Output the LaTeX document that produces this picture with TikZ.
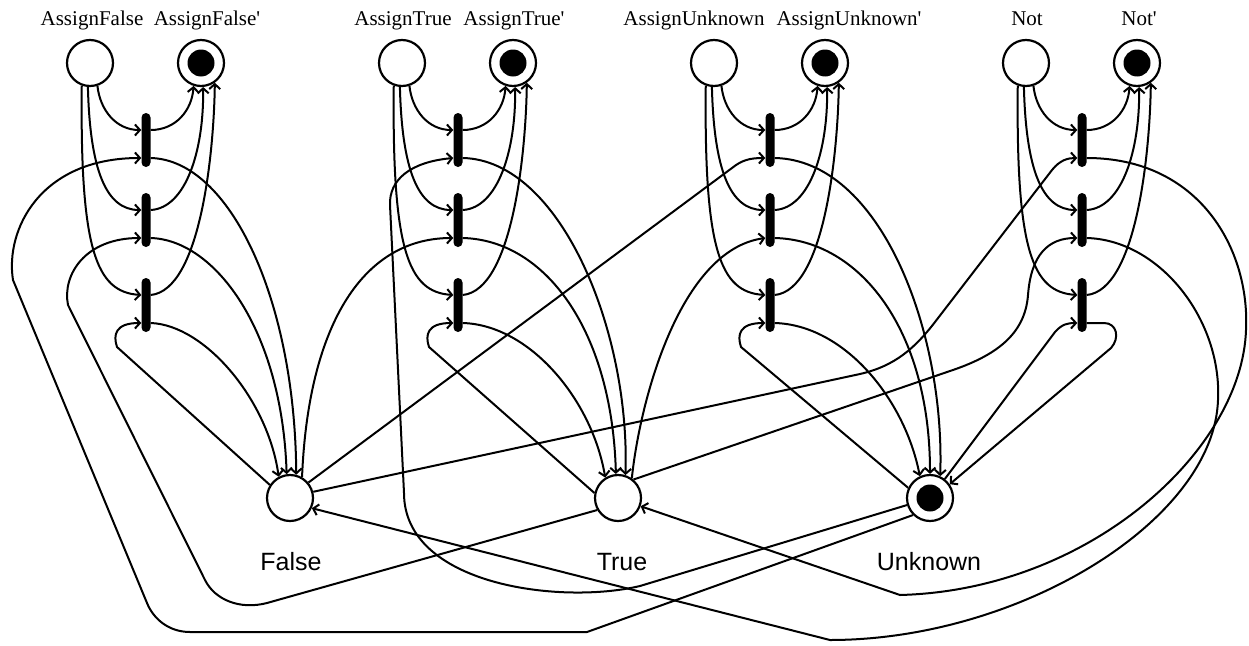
\documentclass[tikz,border=0pt]{standalone}
\usepackage{fontspec}
\setmainfont{Liberation Serif}
\newfontfamily\valfont{Liberation Sans}
\usetikzlibrary{arrows.meta,calc}

\begin{document}
\begin{tikzpicture}[x=1pt,y=-1pt,
  place/.style={circle,draw,line width=2.2pt,minimum size=46pt,inner sep=0pt},
  marked/.style={place,path picture={\fill (path picture bounding box.center) circle[radius=13.5pt];}},
  trans/.style={rectangle,fill,minimum width=9pt,minimum height=54pt,inner sep=0pt,rounded corners=4.5pt},
  arc/.style={line width=2pt,line join=round,-{Straight Barb[length=5pt,width=11pt]}},
  plabel/.style={font=\fontsize{21}{25}\selectfont,anchor=base,inner sep=0pt},
  vlabel/.style={font=\valfont\fontsize{25}{30}\selectfont,anchor=base,inner sep=0pt}]
\useasboundingbox (0,0) rectangle (1249,645);

% transitions: three per group, with their four arc ports
\foreach \g/\tx in {1/146,2/458,3/770,4/1082}{
  \foreach \k/\ty in {1/140,2/220,3/305}{
    \node[trans] (t\g\k) at (\tx,\ty) {};
    \coordinate (t\g\k-pi) at ($(t\g\k.west)+(0,-10)$);
    \coordinate (t\g\k-vi) at ($(t\g\k.west)+(0,18)$);
    \coordinate (t\g\k-po) at ($(t\g\k.east)+(0,-10)$);
    \coordinate (t\g\k-vo) at ($(t\g\k.east)+(0,18)$);
  }
}

% operation places
\node[place]  (p1) at (90,63)   {};
\node[marked] (q1) at (201,63)  {};
\node[place]  (p2) at (402,63)  {};
\node[marked] (q2) at (513,63)  {};
\node[place]  (p3) at (714,63)  {};
\node[marked] (q3) at (825,63)  {};
\node[place]  (p4) at (1026,63) {};
\node[marked] (q4) at (1137,63) {};

\node[plabel] (lp1) at (92,25)   {AssignFalse};
\node[plabel] (lq1) at (207,25)  {AssignFalse\textquotesingle};
\node[plabel] (lp2) at (403,25)  {AssignTrue};
\node[plabel] (lq2) at (514,25)  {AssignTrue\textquotesingle};
\node[plabel] (lp3) at (694,25)  {AssignUnknown};
\node[plabel] (lq3) at (849,25)  {AssignUnknown\textquotesingle};
\node[plabel] (lp4) at (1027,25) {Not};
\node[plabel] (lq4) at (1139,25) {Not\textquotesingle};

% value places
\node[place]  (F) at (290,498) {};
\node[place]  (T) at (618,498) {};
\node[marked] (U) at (930,498) {};
\node[vlabel] (lF) at (291,570) {False};
\node[vlabel] (lT) at (622,570) {True};
\node[vlabel] (lU) at (929,570) {Unknown};

% operation place -> transitions -> primed place
\foreach \g in {1,...,4}{
  \draw[arc] (p\g.-72)  .. controls ($(t\g1)+(-46,-30)$) and ($(t\g1)+(-30,-10)$) .. (t\g1-pi);
  \draw[arc] (p\g.-95)  .. controls ($(t\g2)+(-56,-50)$) and ($(t\g2)+(-40,-10)$) .. (t\g2-pi);
  \draw[arc] (p\g.-110) .. controls ($(t\g3)+(-66,-55)$) and ($(t\g3)+(-50,-13)$) .. (t\g3-pi);
  \draw[arc] (t\g1-po) .. controls ($(t\g1)+(30,-10)$) and ($(t\g1)+(46,-30)$) .. (q\g.-108);
  \draw[arc] (t\g2-po) .. controls ($(t\g2)+(40,-12)$) and ($(t\g2)+(58,-70)$) .. (q\g.-85);
  \draw[arc] (t\g3-po) .. controls ($(t\g3)+(55,-15)$) and ($(t\g3)+(68,-155)$) .. (q\g.-55);
}

% AssignFalse
\draw[arc] (t11-vo) .. controls (230,160) and (295,300) .. (F.75);
\draw[arc] (t12-vo) .. controls (215,240) and (282,330) .. (F.98);
\draw[arc] (t13-vo) .. controls (205,325) and (268,400) .. (F.118);
\draw[arc] (U.225) -- (587,632) -- (190,632) .. controls (168,632) and (153,618) .. (147,603)
  -- (13,280) .. controls (5,230) and (40,158) .. (t11-vi);
\draw[arc] (T.210) -- (267,603) .. controls (240,610) and (215,600) .. (205,580)
  -- (68,305) .. controls (62,275) and (85,238) .. (t12-vi);
\draw[arc] (F.147) -- (117,347) .. controls (113,335) and (115,323) .. (t13-vi);

% AssignTrue
\draw[arc] (t21-vo) .. controls (560,160) and (630,330) .. (T.72);
\draw[arc] (t22-vo) .. controls (545,240) and (612,330) .. (T.95);
\draw[arc] (t23-vo) .. controls (530,325) and (592,400) .. (T.122);
\draw[arc] (U.197) -- (640,586) .. controls (560,605) and (404,585) .. (404,493)
  -- (390,205) .. controls (389,180) and (410,162) .. (t21-vi);
\draw[arc] (F.60) .. controls (308,330) and (360,238) .. (t22-vi);
\draw[arc] (T.168) -- (429,347) .. controls (425,335) and (427,323) .. (t23-vi);

% AssignUnknown
\draw[arc] (t31-vo) .. controls (880,160) and (945,330) .. (U.65);
\draw[arc] (t32-vo) .. controls (860,240) and (930,330) .. (U.90);
\draw[arc] (t33-vo) .. controls (845,325) and (905,400) .. (U.115);
\draw[arc] (F.40) -- (732,168) .. controls (742,160) and (750,158) .. (t31-vi);
\draw[arc] (T.55) .. controls (640,400) and (680,250) .. (t32-vi);
\draw[arc] (U.155) -- (741,347) .. controls (737,335) and (739,323) .. (t33-vi);

% Not
\draw[arc] (F.15) -- (860,374) .. controls (895,366) and (915,348) .. (935,322)
  -- (1052,170) .. controls (1060,160) and (1068,158) .. (t41-vi);
\draw[arc] (T.50) -- (950,371) .. controls (995,356) and (1025,335) .. (1028,295)
  .. controls (1031,255) and (1048,238) .. (t42-vi);
\draw[arc] (U.52) -- (1055,332) .. controls (1062,324) and (1068,323) .. (t43-vi);
\draw[arc] (t41-vo) .. controls (1200,158) and (1250,250) .. (1246,330)
  .. controls (1242,450) and (1090,590) .. (900,595) -- (T.-20);
\draw[arc] (t42-vo) .. controls (1160,240) and (1222,320) .. (1218,400)
  .. controls (1214,520) and (1020,640) .. (830,640) -- (F.-25);
\draw[arc] (t43-vo) -- (1104,323) .. controls (1117,323) and (1120,338) .. (1111,348) -- (U.35);
\end{tikzpicture}
\end{document}
